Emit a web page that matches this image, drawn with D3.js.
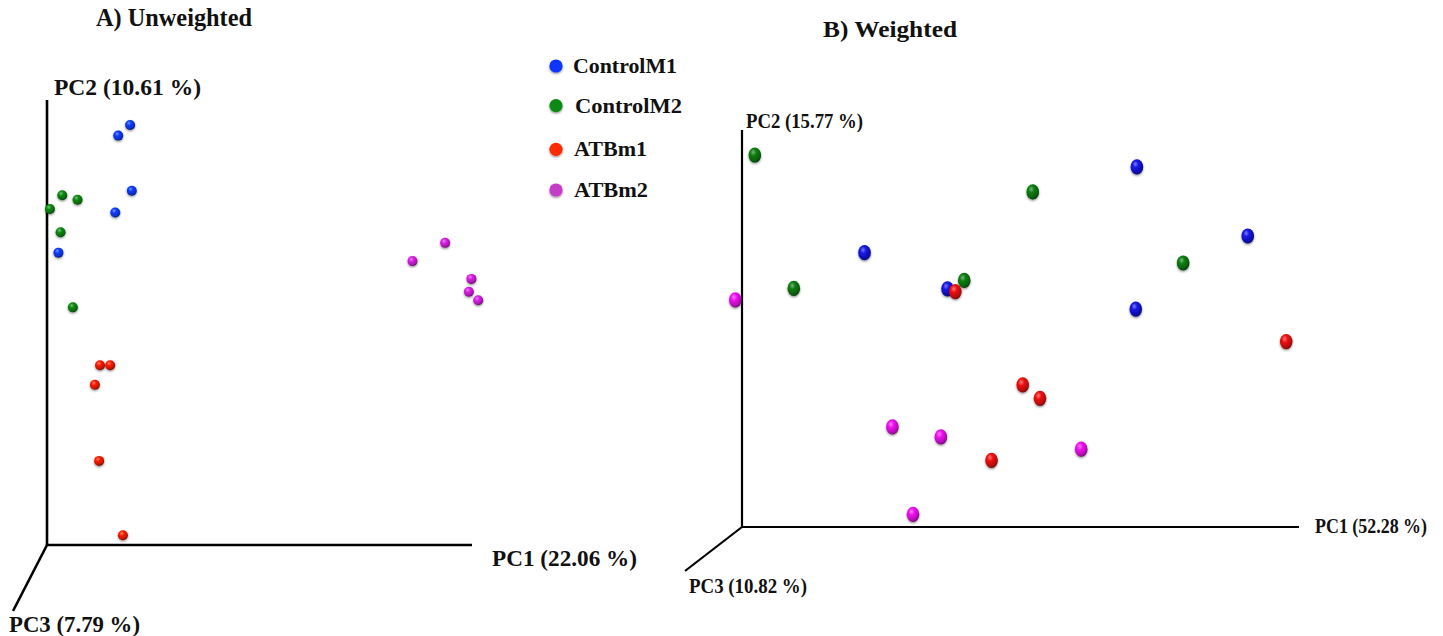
<!DOCTYPE html>
<html>
<head>
<meta charset="utf-8">
<script src="https://cdn.jsdelivr.net/npm/d3@7"></script>
<style>
  body { margin: 0; background: #fff; }
  text { font-family: "Liberation Serif", "Times New Roman", serif; font-weight: bold; fill: #111; }
</style>
</head>
<body>
<svg id="chart" width="1443" height="636"></svg>
<script>
// Projected PCoA positions (0..100 = length of PC1 / PC2 axis)
const groups = ["ControlM1", "ControlM2", "ATBm1", "ATBm2"];

// A) Unweighted
const unwControlM1 = [[19.6, 94.4], [16.8, 92.0], [20.0, 79.6], [16.1, 74.7], [2.7, 65.7]];
const unwControlM2 = [[3.6, 78.6], [7.2, 77.6], [0.7, 75.5], [3.2, 70.3], [6.1, 53.4]];
const unwATBm1 = [[12.5, 40.4], [14.9, 40.4], [11.3, 36.0], [12.3, 18.9], [17.9, 2.2]];
const unwATBm2 = [[93.9, 67.9], [86.2, 63.8], [100.1, 59.8], [99.5, 56.9], [101.7, 55.0]];

// B) Weighted
const wControlM1 = [[70.9, 90.7], [90.8, 73.3], [22.0, 69.1], [36.9, 60.0], [70.7, 54.9]];
const wControlM2 = [[2.3, 93.7], [52.2, 84.4], [79.2, 66.5], [9.3, 60.1], [39.9, 62.1]];
const wATBm1 = [[38.3, 59.3], [97.7, 46.7], [50.4, 35.8], [53.5, 32.4], [44.8, 16.8]];
const wATBm2 = [[-1.2, 57.2], [27.0, 25.2], [35.7, 22.7], [60.9, 19.6], [30.7, 3.2]];

const axisLabelsA = ["PC1 (22.06 %)", "PC2 (10.61 %)", "PC3 (7.79 %)"];
const axisLabelsB = ["PC1 (52.28 %)", "PC2 (15.77 %)", "PC3 (10.82 %)"];

const colorsA = { ControlM1: "#0a3cff", ControlM2: "#0b8a12", ATBm1: "#ff1a00", ATBm2: "#dc1ee6" };
const colorsB = { ControlM1: "#1414e6", ControlM2: "#0a7d10", ATBm1: "#f01010", ATBm2: "#f010f0" };
const legendColors = { ControlM1: "#1034ff", ControlM2: "#0f8a14", ATBm1: "#ff2a00", ATBm2: "#c43cc8" };

const svg = d3.select("#chart");
const defs = svg.append("defs");

const shadow = defs.append("filter").attr("id", "shade")
  .attr("x", "-50%").attr("y", "-50%").attr("width", "200%").attr("height", "200%");
shadow.append("feDropShadow").attr("dx", 0).attr("dy", 1.2)
  .attr("stdDeviation", 0.9).attr("flood-color", "#000").attr("flood-opacity", 0.45);

// sphere-like shading per colour
function sphereGrad(id, base) {
  const c = d3.color(base);
  const g = defs.append("radialGradient").attr("id", id)
    .attr("cx", "38%").attr("cy", "32%").attr("r", "68%");
  g.append("stop").attr("offset", "0%").attr("stop-color", d3.interpolateRgb(base, "#fff")(0.45));
  g.append("stop").attr("offset", "35%").attr("stop-color", base);
  g.append("stop").attr("offset", "85%").attr("stop-color", c.darker(0.9));
  g.append("stop").attr("offset", "100%").attr("stop-color", c.darker(2));
  return `url(#${id})`;
}

function panel(cfg) {
  const x = d3.scaleLinear().domain([0, 100]).range(cfg.xRange);
  const y = d3.scaleLinear().domain([0, 100]).range(cfg.yRange);
  const g = svg.append("g");
  const ox = x(0), oy = y(0);

  // 3D axes: PC1, PC2 and the receding PC3 line
  const axes = [
    [ox, oy, cfg.xEnd, oy],
    [ox, oy, ox, cfg.yEnd],
    [ox, oy, ox + cfg.depth[0], oy + cfg.depth[1]],
  ];
  g.selectAll("line.axis").data(axes).join("line")
    .attr("class", "axis")
    .attr("x1", d => d[0]).attr("y1", d => d[1])
    .attr("x2", d => d[2]).attr("y2", d => d[3])
    .attr("stroke", "#000").attr("stroke-width", cfg.axisW);

  g.selectAll("text.axlab").data(cfg.labels).join("text")
    .attr("class", "axlab")
    .attr("x", d => d.x).attr("y", d => d.y)
    .attr("font-size", cfg.labelSize)
    .attr("textLength", d => d.w).attr("lengthAdjust", "spacingAndGlyphs")
    .text(d => d.t);

  g.append("text").attr("x", cfg.title.x).attr("y", cfg.title.y)
    .attr("font-size", cfg.title.size)
    .attr("textLength", cfg.title.w).attr("lengthAdjust", "spacingAndGlyphs")
    .text(cfg.title.t);

  const pts = [];
  cfg.series.forEach((s, i) => s.forEach(p => pts.push({ group: groups[i], x: p[0], y: p[1] })));
  const fills = {};
  groups.forEach(k => { fills[k] = sphereGrad(cfg.id + k, cfg.colors[k]); });

  g.selectAll("ellipse.pt").data(pts).join("ellipse")
    .attr("class", "pt")
    .attr("cx", d => x(d.x)).attr("cy", d => y(d.y))
    .attr("rx", cfg.rx).attr("ry", cfg.ry)
    .attr("fill", d => fills[d.group])
    .attr("filter", "url(#shade)");
}

panel({
  id: "a",
  xRange: [47, 471], yRange: [545, 100],
  xEnd: 472, yEnd: 100, depth: [-34, 66], axisW: 2.6,
  labelSize: 23,
  labels: [
    { t: axisLabelsA[0], x: 492, y: 566, w: 145 },
    { t: axisLabelsA[1], x: 54, y: 95, w: 147 },
    { t: axisLabelsA[2], x: 9, y: 632, w: 131 },
  ],
  title: { t: "A) Unweighted", x: 96, y: 26, w: 156, size: 26 },
  series: [unwControlM1, unwControlM2, unwATBm1, unwATBm2],
  colors: colorsA, rx: 5, ry: 5,
});

panel({
  id: "b",
  xRange: [742, 1299], yRange: [527, 130],
  xEnd: 1299, yEnd: 130, depth: [-57, 44], axisW: 2.2,
  labelSize: 20,
  labels: [
    { t: axisLabelsB[0], x: 1315, y: 533, w: 112 },
    { t: axisLabelsB[1], x: 746, y: 128, w: 117 },
    { t: axisLabelsB[2], x: 689, y: 593, w: 118 },
  ],
  title: { t: "B) Weighted", x: 823, y: 37, w: 134, size: 23 },
  series: [wControlM1, wControlM2, wATBm1, wATBm2],
  colors: colorsB, rx: 6.3, ry: 7.6,
});

// Legend
const legY = d3.scalePoint().domain(groups).range([68, 190]);
const legOff = { ControlM1: -2, ControlM2: -3, ATBm1: 0, ATBm2: 0 };
const legTextX = { ControlM1: 573, ControlM2: 575, ATBm1: 574, ATBm2: 574 };
const legTextW = { ControlM1: 104, ControlM2: 107, ATBm1: 73, ATBm2: 74 };
const leg = svg.append("g");
leg.selectAll("circle").data(groups).join("circle")
  .attr("cx", 556).attr("cy", d => legY(d) + legOff[d]).attr("r", 6.6)
  .attr("fill", d => legendColors[d])
  .attr("filter", "url(#shade)");
leg.selectAll("text").data(groups).join("text")
  .attr("x", d => legTextX[d]).attr("y", d => legY(d) + legOff[d] + 7)
  .attr("font-size", 22)
  .attr("textLength", d => legTextW[d]).attr("lengthAdjust", "spacingAndGlyphs")
  .text(d => d);
</script>
</body>
</html>
